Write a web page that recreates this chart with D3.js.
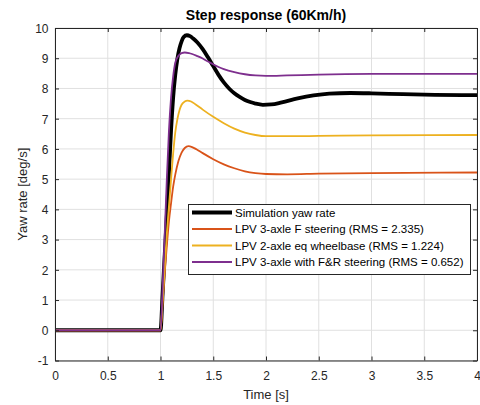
<!DOCTYPE html>
<html><head><meta charset="utf-8">
<script src="https://cdn.jsdelivr.net/npm/d3@7"></script>
<style>body{margin:0;background:#fff}svg{display:block}text{font-family:"Liberation Sans",Arial,sans-serif}</style>
</head><body><svg id="c" width="480" height="405"></svg>
<script>
const xTicks = [0,0.5,1,1.5,2,2.5,3,3.5,4];
const yTicks = [-1,0,1,2,3,4,5,6,7,8,9,10];
const seriesNames = ["Simulation yaw rate","LPV 3-axle F steering (RMS = 2.335)","LPV 2-axle eq wheelbase (RMS = 1.224)","LPV 3-axle with F&R steering (RMS = 0.652)"];
const seriesColors = ["#000000","#D95319","#EDB120","#7E2F8E"];
const simT = [0,1.0,1.02,1.04,1.06,1.08,1.10,1.12,1.14,1.16,1.18,1.20,1.22,1.25,1.28,1.31,1.35,1.40,1.45,1.50,1.55,1.60,1.65,1.70,1.75,1.80,1.85,1.90,1.97,2.05,2.15,2.30,2.45,2.60,2.80,3.00,3.30,3.60,4.00];
const simV = [0,0,1.2,2.5,3.8,5.2,6.6,7.7,8.45,8.98,9.33,9.56,9.7,9.76,9.73,9.65,9.52,9.3,9.03,8.74,8.45,8.2,8.0,7.84,7.72,7.62,7.55,7.5,7.46,7.47,7.54,7.67,7.77,7.83,7.85,7.84,7.81,7.79,7.78];
const fT = [0,1.0,1.02,1.04,1.06,1.08,1.10,1.12,1.14,1.17,1.20,1.23,1.265,1.30,1.34,1.40,1.50,1.60,1.70,1.80,1.90,2.00,2.20,2.50,3.00,4.00];
const fV = [0,0,0.9,1.9,2.8,3.6,4.2,4.75,5.15,5.6,5.88,6.03,6.09,6.06,5.99,5.86,5.66,5.49,5.36,5.26,5.2,5.17,5.16,5.18,5.2,5.22];
const eqT = [0,1.0,1.02,1.04,1.06,1.08,1.10,1.12,1.14,1.16,1.18,1.20,1.23,1.255,1.29,1.33,1.40,1.50,1.60,1.70,1.80,1.90,2.00,2.20,2.50,3.00,4.00];
const eqV = [0,0,1.0,2.1,3.2,4.1,5.0,5.85,6.55,6.98,7.28,7.46,7.57,7.6,7.57,7.48,7.3,7.06,6.85,6.67,6.54,6.46,6.42,6.42,6.43,6.45,6.46];
const frT = [0,1.0,1.02,1.04,1.06,1.08,1.10,1.12,1.14,1.17,1.20,1.23,1.27,1.30,1.35,1.40,1.45,1.50,1.55,1.60,1.70,1.80,1.90,2.00,2.20,2.50,3.00,4.00];
const frV = [0,0,1.4,3.2,5.0,6.6,7.7,8.4,8.85,9.08,9.17,9.19,9.17,9.14,9.07,8.99,8.89,8.8,8.71,8.64,8.54,8.47,8.43,8.415,8.43,8.46,8.48,8.48];

const svg = d3.select("#c");
const L=55,R=477,T=28,B=360.5;
const x = d3.scaleLinear().domain([0,4]).range([L,R]);
const y = d3.scaleLinear().domain([-1,10]).range([B,T]);
const axisCol = "#262626";

// grid
const g = svg.append("g");
g.selectAll(".gx").data(xTicks).join("line").attr("x1",d=>x(d)).attr("x2",d=>x(d)).attr("y1",T).attr("y2",B).attr("stroke","#e0e0e0").attr("stroke-width",1);
g.selectAll(".gy").data(yTicks).join("line").attr("y1",d=>y(d)).attr("y2",d=>y(d)).attr("x1",L).attr("x2",R).attr("stroke","#e0e0e0").attr("stroke-width",1);

// lines
const line = d3.line().x(d=>x(d[0])).y(d=>y(d[1])).curve(d3.curveMonotoneX);
const data = [[simT,simV],[fT,fV],[eqT,eqV],[frT,frV]];
const widths = [3.8,1.8,1.8,1.8];
data.forEach((s,i)=>{
  const pts = s[0].map((t,k)=>[t,s[1][k]]);
  svg.append("path").datum(pts).attr("d",line).attr("fill","none").attr("stroke",seriesColors[i]).attr("stroke-width",widths[i]).attr("stroke-linejoin","round");
});

// axes
const ax = svg.append("g").attr("transform",`translate(0,${B})`).call(d3.axisBottom(x).tickValues(xTicks).tickFormat(d=>String(d)).tickSizeInner(-4).tickSizeOuter(0));
const axT = svg.append("g").attr("transform",`translate(0,${T})`).call(d3.axisTop(x).tickValues(xTicks).tickFormat("").tickSizeInner(-4).tickSizeOuter(0));
const ay = svg.append("g").attr("transform",`translate(${L},0)`).call(d3.axisLeft(y).tickValues(yTicks).tickFormat(d=>String(d)).tickSizeInner(-4).tickSizeOuter(0));
const ayR = svg.append("g").attr("transform",`translate(${R},0)`).call(d3.axisRight(y).tickValues(yTicks).tickFormat("").tickSizeInner(-4).tickSizeOuter(0));
[ax,axT,ay,ayR].forEach(a=>{a.select(".domain").attr("stroke",axisCol);a.selectAll(".tick line").attr("stroke",axisCol);a.selectAll("text").attr("fill",axisCol).style("font-size","12px").style("font-family","'Liberation Sans',Arial,sans-serif");});
ax.selectAll(".tick text").attr("y",19).attr("dy",0);
ay.selectAll(".tick text").attr("x",-6.5).attr("dy","0.36em");

// title & labels
svg.append("text").attr("x",(L+R)/2).attr("y",20).attr("text-anchor","middle").style("font-weight","bold").style("font-size","14px").attr("fill","#000").text("Step response (60Km/h)");
svg.append("text").attr("x",(L+R)/2).attr("y",399).attr("text-anchor","middle").style("font-size","13px").attr("fill",axisCol).text("Time [s]");
svg.append("text").attr("transform",`translate(27,${(T+B)/2}) rotate(-90)`).attr("text-anchor","middle").style("font-size","13px").attr("fill",axisCol).text("Yaw rate [deg/s]");

// legend
const lg = svg.append("g");
lg.append("rect").attr("x",188.5).attr("y",204.5).attr("width",282).attr("height",70).attr("fill","#fff").attr("stroke",axisCol).attr("stroke-width",1);
seriesNames.forEach((n,i)=>{
  const yy = 212.5+i*16.5;
  lg.append("line").attr("x1",192).attr("x2",232).attr("y1",yy).attr("y2",yy).attr("stroke",seriesColors[i]).attr("stroke-width",widths[i]);
  lg.append("text").attr("x",235).attr("y",yy+4).style("font-size","11.5px").attr("fill","#000").text(n);
});
</script></body></html>
